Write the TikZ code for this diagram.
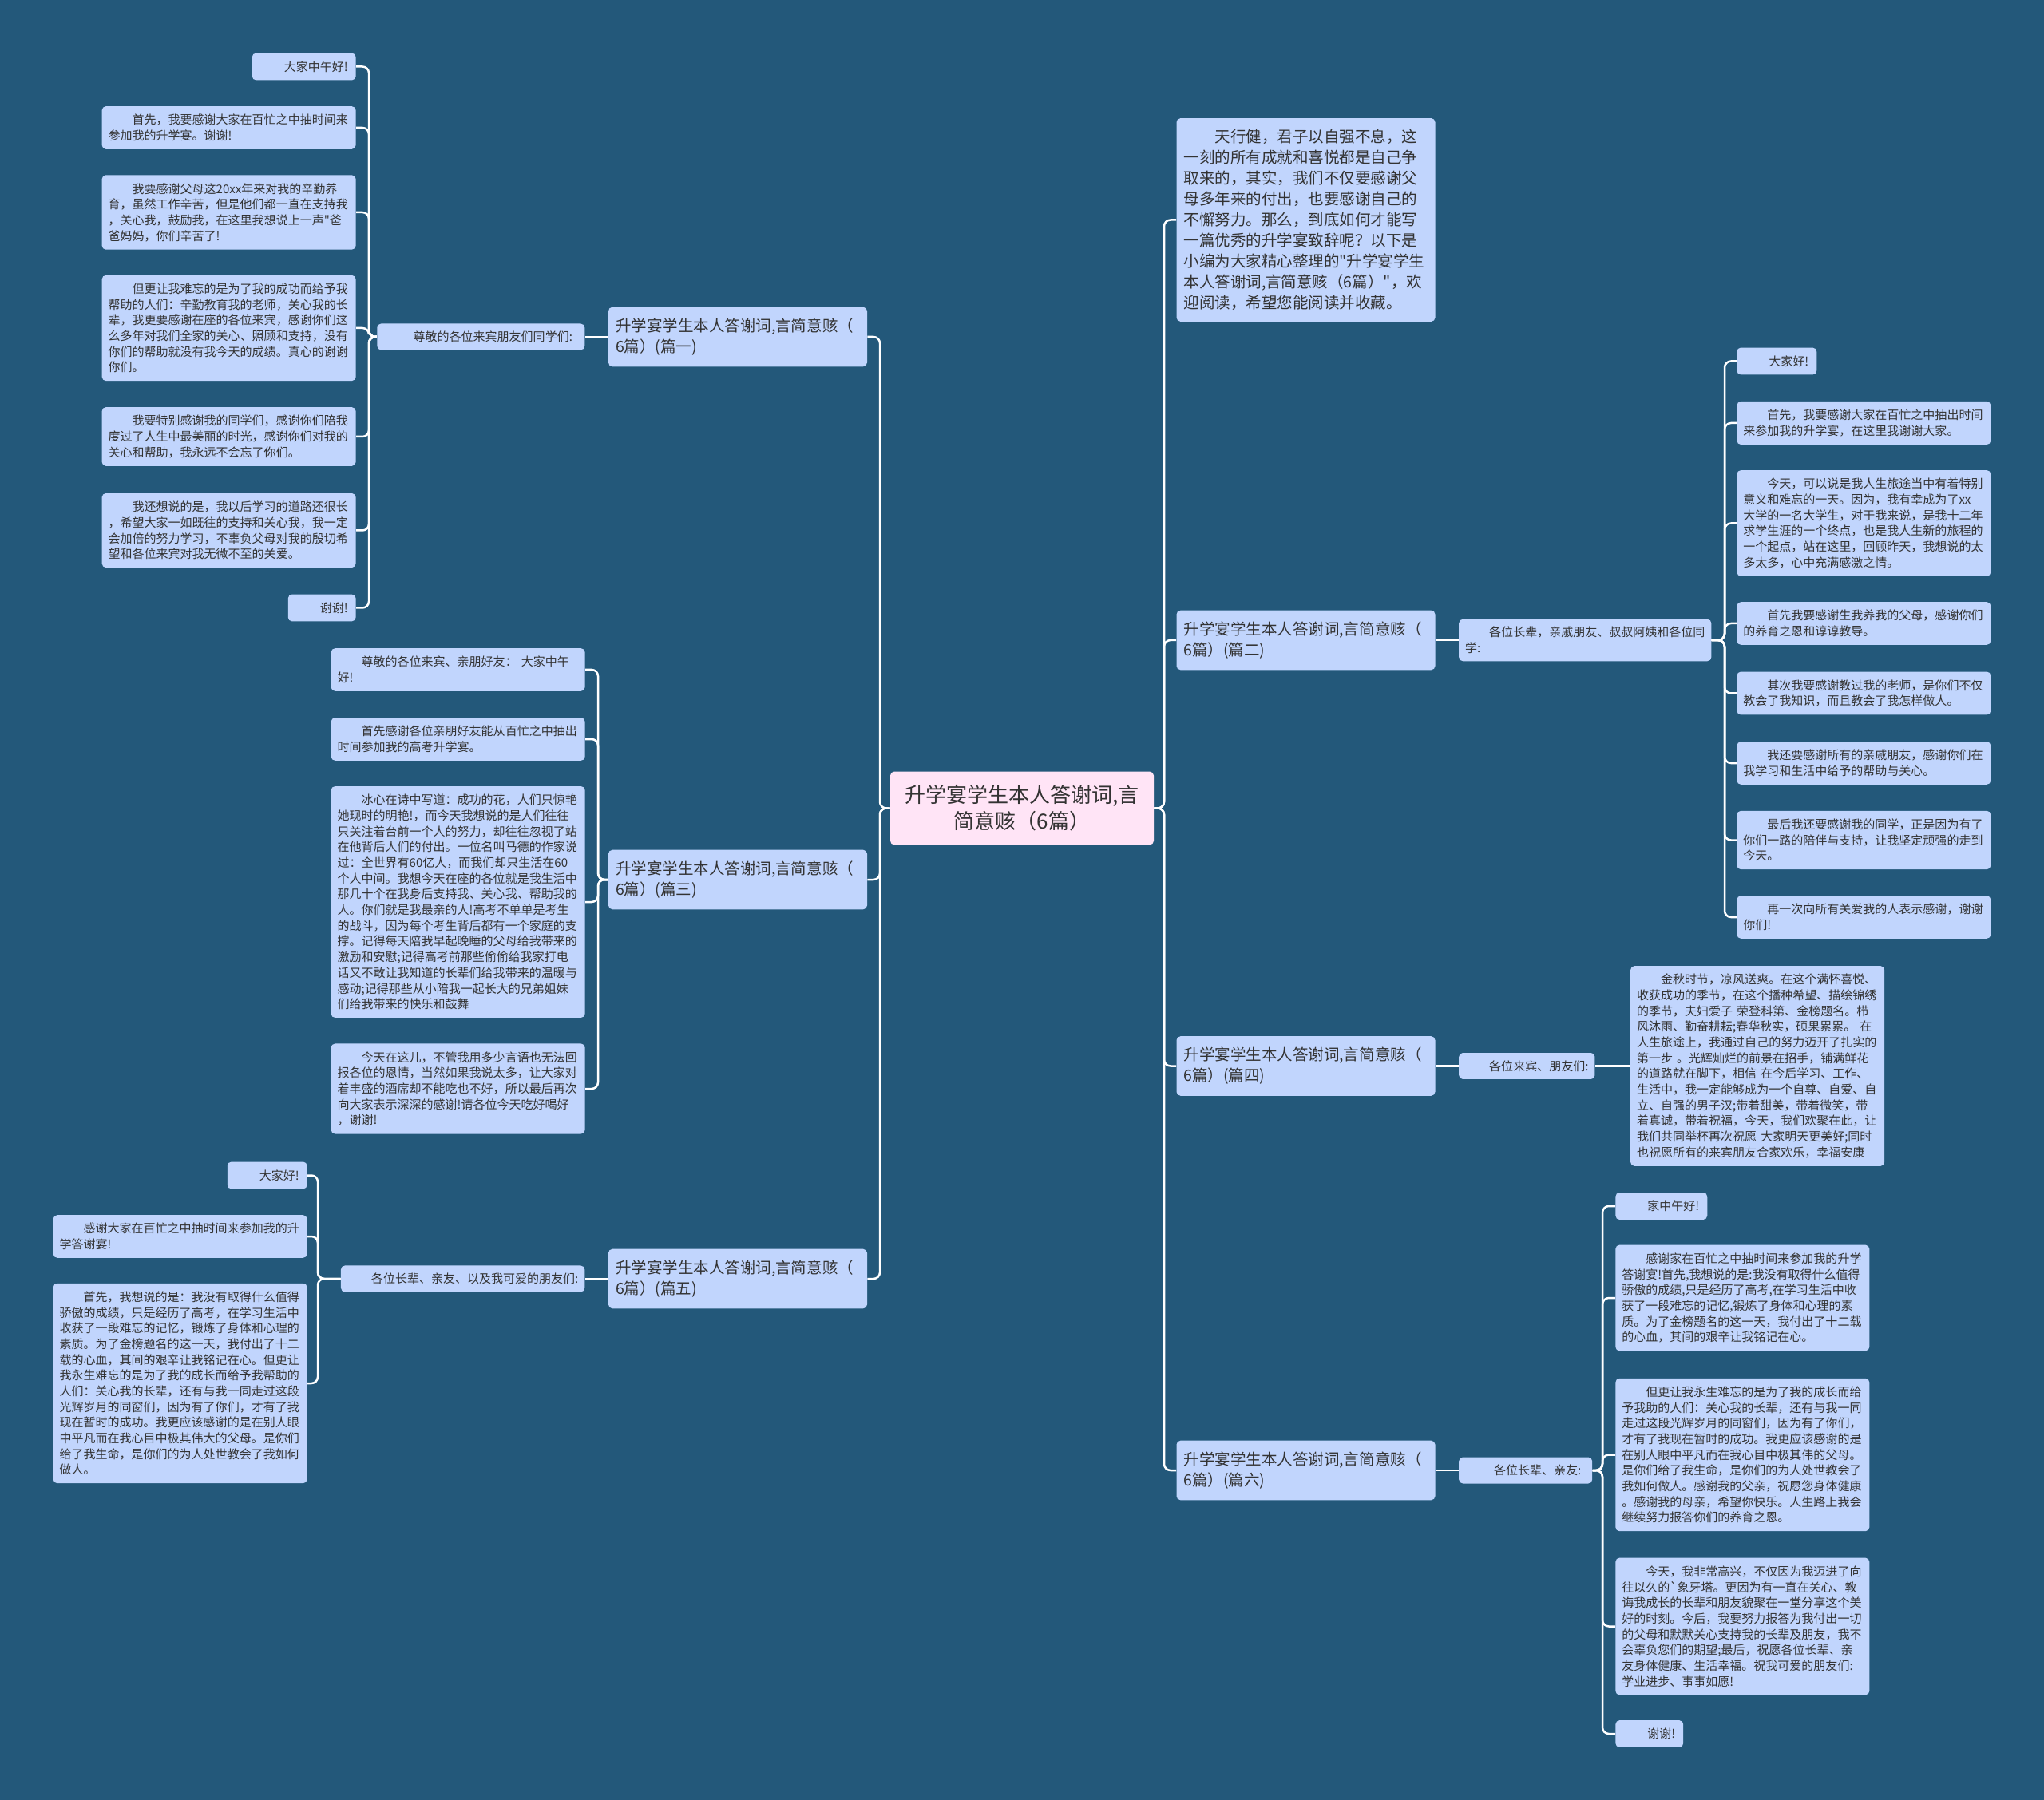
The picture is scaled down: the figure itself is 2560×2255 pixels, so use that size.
\documentclass[tikz,border=0pt]{standalone}
\usepackage{fontspec}
\setmainfont{Noto Sans CJK SC}[Ligatures=TeXOff]
\usetikzlibrary{positioning}
\definecolor{bgblue}{HTML}{23587A}
\definecolor{nodeblue}{HTML}{C1D5FD}
\definecolor{rootpink}{HTML}{FFE4F6}
\definecolor{txtgray}{HTML}{333333}
\newcommand{\indt}{\hspace*{2em}}

\begin{document}
\begin{tikzpicture}[x=0.2mm, y=-0.2mm,
    basebox/.style={rectangle, rounded corners=1mm, fill=nodeblue, text=txtgray},
    rootbox/.style={basebox, fill=rootpink, align=center, minimum width=66mm, inner ysep=3.4mm, font=\fontsize{14.8pt}{18.8pt}\selectfont},
    topicbox/.style={basebox, align=left, text width=61.2mm, inner xsep=1.8mm, inner ysep=2.8mm, font=\fontsize{11.1pt}{14.8pt}\selectfont},
    subbox/.style={basebox, align=left, inner xsep=1.6mm, inner ysep=1.9mm, font=\fontsize{8.54pt}{11.2pt}\selectfont},
    leafbox/.style={basebox, align=left, text width=60.4mm, inner xsep=1.6mm, inner ysep=2mm, font=\fontsize{8.54pt}{11.2pt}\selectfont},
    shortbox/.style={basebox, align=left, inner xsep=2mm, inner ysep=2mm, font=\fontsize{8.54pt}{11.2pt}\selectfont},
    conn/.style={draw=white, line width=0.5mm, rounded corners=1.6mm}]
  \fill[bgblue] (0,0) rectangle (2560,2255);
  \useasboundingbox (0,0) rectangle (2560,2255);

  \node[rootbox] (root) at (1280,1012.5) {升学宴学生本人答谢词,言\\简意赅（6篇）};

  \node[topicbox] (intro) at (1635.5,275.5) {\indt 天行健，君子以自强不息，这\\一刻的所有成就和喜悦都是自己争\\取来的，其实，我们不仅要感谢父\\母多年来的付出，也要感谢自己的\\不懈努力。那么，到底如何才能写\\一篇优秀的升学宴致辞呢？以下是\\小编为大家精心整理的"升学宴学生\\本人答谢词,言简意赅（6篇）"，欢\\迎阅读，希望您能阅读并收藏。};
  \node[topicbox] (p1) at (924,422) {升学宴学生本人答谢词,言简意赅（\\6篇）(篇一)};
  \node[topicbox] (p2) at (1635.5,802) {升学宴学生本人答谢词,言简意赅（\\6篇）(篇二)};
  \node[topicbox] (p3) at (924,1102) {升学宴学生本人答谢词,言简意赅（\\6篇）(篇三)};
  \node[topicbox] (p4) at (1635.5,1335.5) {升学宴学生本人答谢词,言简意赅（\\6篇）(篇四)};
  \node[topicbox] (p5) at (924,1602) {升学宴学生本人答谢词,言简意赅（\\6篇）(篇五)};
  \node[topicbox] (p6) at (1635.5,1842) {升学宴学生本人答谢词,言简意赅（\\6篇）(篇六)};

  \node[subbox, minimum width=52mm, left=5.8mm of p1] (l1) {\indt 尊敬的各位来宾朋友们同学们:};
  \node[subbox, right=5.8mm of p2] (l2) {\indt 各位长辈，亲戚朋友、叔叔阿姨和各位同\\学:};
  \node[subbox, minimum width=33.4mm, right=5.8mm of p4] (l4) {\indt 各位来宾、朋友们:};
  \node[subbox, left=5.8mm of p5] (l5) {\indt 各位长辈、亲友、以及我可爱的朋友们:};
  \node[subbox, minimum width=33.4mm, right=5.8mm of p6] (l6) {\indt 各位长辈、亲友:};

  \node[shortbox, anchor=east] (a1) at (446,83.5) {\indt 大家中午好!};
  \node[leafbox, anchor=east] (a2) at (446,160) {\indt 首先，我要感谢大家在百忙之中抽时间来\\参加我的升学宴。谢谢!};
  \node[leafbox, anchor=east] (a3) at (446,266) {\indt 我要感谢父母这20xx年来对我的辛勤养\\育，虽然工作辛苦，但是他们都一直在支持我\\，关心我，鼓励我，在这里我想说上一声"爸\\爸妈妈，你们辛苦了!};
  \node[leafbox, anchor=east] (a4) at (446,411) {\indt 但更让我难忘的是为了我的成功而给予我\\帮助的人们：辛勤教育我的老师，关心我的长\\辈，我更要感谢在座的各位来宾，感谢你们这\\么多年对我们全家的关心、照顾和支持，没有\\你们的帮助就没有我今天的成绩。真心的谢谢\\你们。};
  \node[leafbox, anchor=east] (a5) at (446,547) {\indt 我要特别感谢我的同学们，感谢你们陪我\\度过了人生中最美丽的时光，感谢你们对我的\\关心和帮助，我永远不会忘了你们。};
  \node[leafbox, anchor=east] (a6) at (446,664.5) {\indt 我还想说的是，我以后学习的道路还很长\\，希望大家一如既往的支持和关心我，我一定\\会加倍的努力学习，不辜负父母对我的殷切希\\望和各位来宾对我无微不至的关爱。};
  \node[shortbox, anchor=east] (a7) at (446,761.5) {\indt 谢谢!};

  \node[leafbox, anchor=east] (b1) at (733,839) {\indt 尊敬的各位来宾、亲朋好友： 大家中午\\好!};
  \node[leafbox, anchor=east] (b2) at (733,926) {\indt 首先感谢各位亲朋好友能从百忙之中抽出\\时间参加我的高考升学宴。};
  \node[leafbox, anchor=east] (b3) at (733,1130) {\indt 冰心在诗中写道：成功的花，人们只惊艳\\她现时的明艳!，而今天我想说的是人们往往\\只关注着台前一个人的努力，却往往忽视了站\\在他背后人们的付出。一位名叫马德的作家说\\过：全世界有60亿人，而我们却只生活在60\\个人中间。我想今天在座的各位就是我生活中\\那几十个在我身后支持我、关心我、帮助我的\\人。你们就是我最亲的人!高考不单单是考生\\的战斗，因为每个考生背后都有一个家庭的支\\撑。记得每天陪我早起晚睡的父母给我带来的\\激励和安慰;记得高考前那些偷偷给我家打电\\话又不敢让我知道的长辈们给我带来的温暖与\\感动;记得那些从小陪我一起长大的兄弟姐妹\\们给我带来的快乐和鼓舞};
  \node[leafbox, anchor=east] (b4) at (733,1364) {\indt 今天在这儿，不管我用多少言语也无法回\\报各位的恩情，当然如果我说太多，让大家对\\着丰盛的酒席却不能吃也不好，所以最后再次\\向大家表示深深的感谢!请各位今天吃好喝好\\，谢谢!};

  \node[shortbox, anchor=east] (c1) at (385,1472.5) {\indt 大家好!};
  \node[leafbox, anchor=east] (c2) at (385,1549) {\indt 感谢大家在百忙之中抽时间来参加我的升\\学答谢宴!};
  \node[leafbox, anchor=east] (c3) at (385,1733) {\indt 首先，我想说的是：我没有取得什么值得\\骄傲的成绩，只是经历了高考，在学习生活中\\收获了一段难忘的记忆，锻炼了身体和心理的\\素质。为了金榜题名的这一天，我付出了十二\\载的心血，其间的艰辛让我铭记在心。但更让\\我永生难忘的是为了我的成长而给予我帮助的\\人们：关心我的长辈，还有与我一同走过这段\\光辉岁月的同窗们，因为有了你们，才有了我\\现在暂时的成功。我更应该感谢的是在别人眼\\中平凡而在我心目中极其伟大的父母。是你们\\给了我生命，是你们的为人处世教会了我如何\\做人。};

  \node[shortbox, anchor=west] (d1) at (2175,452.5) {\indt 大家好!};
  \node[leafbox, anchor=west] (d2) at (2175,530) {\indt 首先，我要感谢大家在百忙之中抽出时间\\来参加我的升学宴，在这里我谢谢大家。};
  \node[leafbox, anchor=west] (d3) at (2175,655.5) {\indt 今天，可以说是我人生旅途当中有着特别\\意义和难忘的一天。因为，我有幸成为了xx\\大学的一名大学生，对于我来说，是我十二年\\求学生涯的一个终点，也是我人生新的旅程的\\一个起点，站在这里，回顾昨天，我想说的太\\多太多，心中充满感激之情。};
  \node[leafbox, anchor=west] (d4) at (2175,781) {\indt 首先我要感谢生我养我的父母，感谢你们\\的养育之恩和谆谆教导。};
  \node[leafbox, anchor=west] (d5) at (2175,868.5) {\indt 其次我要感谢教过我的老师，是你们不仅\\教会了我知识，而且教会了我怎样做人。};
  \node[leafbox, anchor=west] (d6) at (2175,956) {\indt 我还要感谢所有的亲戚朋友，感谢你们在\\我学习和生活中给予的帮助与关心。};
  \node[leafbox, anchor=west] (d7) at (2175,1052.5) {\indt 最后我还要感谢我的同学，正是因为有了\\你们一路的陪伴与支持，让我坚定顽强的走到\\今天。};
  \node[leafbox, anchor=west] (d8) at (2175,1149) {\indt 再一次向所有关爱我的人表示感谢，谢谢\\你们!};

  \node[leafbox, right=8.8mm of l4] (e1) {\indt 金秋时节，凉风送爽。在这个满怀喜悦、\\收获成功的季节，在这个播种希望、描绘锦绣\\的季节，夫妇爱子 荣登科第、金榜题名。栉\\风沐雨、勤奋耕耘;春华秋实，硕果累累。 在\\人生旅途上，我通过自己的努力迈开了扎实的\\第一步 。光辉灿烂的前景在招手，铺满鲜花\\的道路就在脚下，相信 在今后学习、工作、\\生活中，我一定能够成为一个自尊、自爱、自\\立、自强的男子汉;带着甜美，带着微笑，带\\着真诚，带着祝福，今天，我们欢聚在此，让\\我们共同举杯再次祝愿 大家明天更美好;同时\\也祝愿所有的来宾朋友合家欢乐，幸福安康};

  \node[shortbox, anchor=west] (f1) at (2023,1511) {\indt 家中午好!};
  \node[leafbox, anchor=west] (f2) at (2023,1626) {\indt 感谢家在百忙之中抽时间来参加我的升学\\答谢宴!首先,我想说的是:我没有取得什么值得\\骄傲的成绩,只是经历了高考,在学习生活中收\\获了一段难忘的记忆,锻炼了身体和心理的素\\质。为了金榜题名的这一天，我付出了十二载\\的心血，其间的艰辛让我铭记在心。};
  \node[leafbox, anchor=west] (f3) at (2023,1822.5) {\indt 但更让我永生难忘的是为了我的成长而给\\予我助的人们：关心我的长辈，还有与我一同\\走过这段光辉岁月的同窗们，因为有了你们，\\才有了我现在暂时的成功。我更应该感谢的是\\在别人眼中平凡而在我心目中极其伟的父母。\\是你们给了我生命，是你们的为人处世教会了\\我如何做人。感谢我的父亲，祝愿您身体健康\\。感谢我的母亲，希望你快乐。人生路上我会\\继续努力报答你们的养育之恩。};
  \node[leafbox, anchor=west] (f4) at (2023,2037.5) {\indt 今天，我非常高兴，不仅因为我迈进了向\\往以久的\textasciigrave 象牙塔。更因为有一直在关心、教\\诲我成长的长辈和朋友貌聚在一堂分享这个美\\好的时刻。今后，我要努力报答为我付出一切\\的父母和默默关心支持我的长辈及朋友，我不\\会辜负您们的期望;最后，祝愿各位长辈、亲\\友身体健康、生活幸福。祝我可爱的朋友们:\\学业进步、事事如愿!};
  \node[shortbox, anchor=west] (f5) at (2023,2172) {\indt 谢谢!};

  \coordinate (tl) at (1102,0);
  \coordinate (tr) at (1458,0);
  \coordinate (ta) at (462,0);
  \coordinate (tb) at (749,0);
  \coordinate (tc) at (398,0);
  \coordinate (td) at (2160,0);
  \coordinate (tf) at (2007,0);

  \foreach \n in {p1,p3,p5}
    \draw[conn] (root.west) -- (root.west -| tl) |- (\n.east);
  \foreach \n in {intro,p2,p4,p6}
    \draw[conn] (root.east) -- (root.east -| tr) |- (\n.west);
  \foreach \i in {1,...,7}
    \draw[conn] (l1.west) -- (l1.west -| ta) |- (a\i.east);
  \foreach \i in {1,...,4}
    \draw[conn] (p3.west) -- (p3.west -| tb) |- (b\i.east);
  \foreach \i in {1,2,3}
    \draw[conn] (l5.west) -- (l5.west -| tc) |- (c\i.east);
  \foreach \i in {1,...,8}
    \draw[conn] (l2.east) -- (l2.east -| td) |- (d\i.west);
  \foreach \i in {1,...,5}
    \draw[conn] (l6.east) -- (l6.east -| tf) |- (f\i.west);
  \draw[conn] (p1.west) -- (l1.east);
  \draw[conn] (p5.west) -- (l5.east);
  \draw[conn] (p2.east) -- (l2.west);
  \draw[conn] (p4.east) -- (l4.west);
  \draw[conn] (l4.east) -- (e1.west);
  \draw[conn] (p6.east) -- (l6.west);
\end{tikzpicture}
\end{document}
